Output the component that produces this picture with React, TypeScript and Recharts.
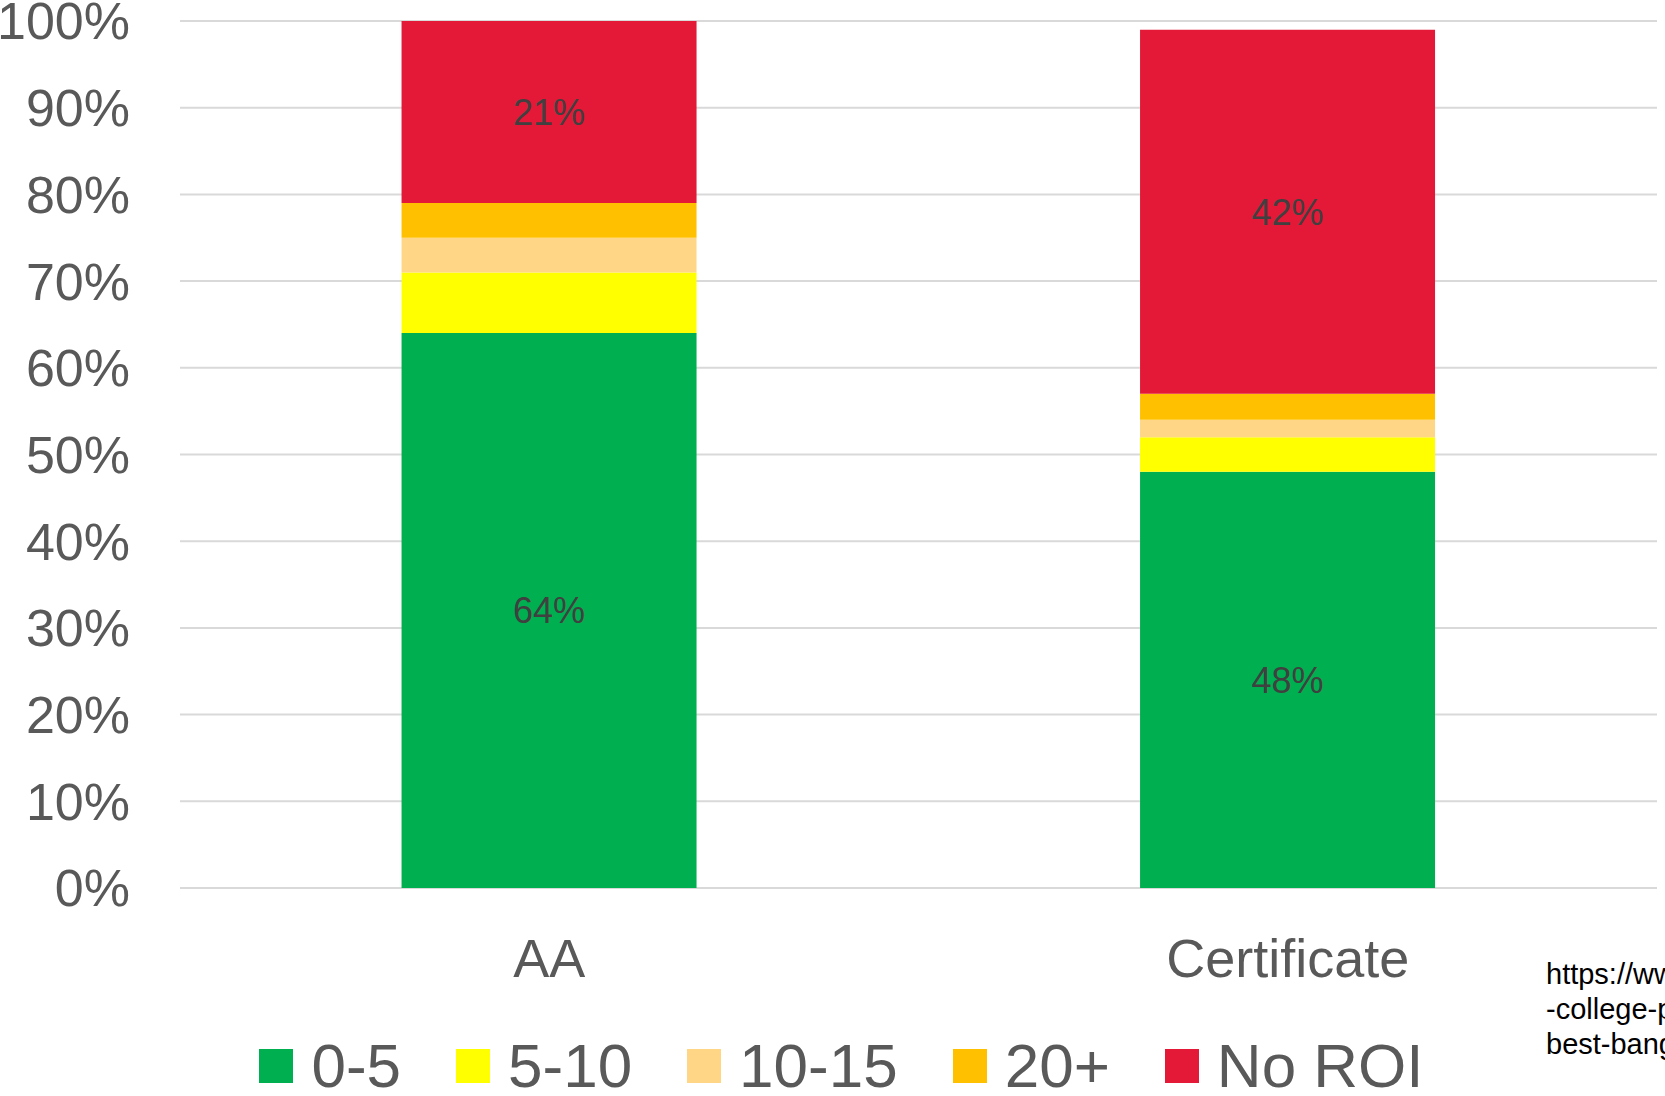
import React from "react";
import { BarChart, Bar, XAxis, YAxis, CartesianGrid, Legend, LabelList } from "recharts";

const categories = ["AA", "Certificate"];
const seriesNames = ["0-5", "5-10", "10-15", "20+", "No ROI"];
const seriesColors = ["#00B050", "#FFFF00", "#FFD686", "#FFC000", "#E31937"];
const values0to5 = [64, 48];
const values5to10 = [7, 4];
const values10to15 = [4, 2];
const values20plus = [4, 3];
const valuesNoROI = [21, 42];
const yTicks = [0, 10, 20, 30, 40, 50, 60, 70, 80, 90, 100];
const labelledSeries = ["0-5", "No ROI"];
const sourceLines = ["https://www.cnbc.com/2019/", "-college-programs-that-give-the-", "best-bang-for-your-buck.html"];

const seriesValues = [values0to5, values5to10, values10to15, values20plus, valuesNoROI];
const data = categories.map((c, i) => {
  const row: Record<string, any> = { category: c };
  seriesNames.forEach((s, j) => {
    row[s] = seriesValues[j][i];
  });
  return row;
});

const FONT = '"Liberation Sans", Arial, sans-serif';

const LegendContent = () => (
  <div
    style={{
      display: "flex",
      justifyContent: "center",
      alignItems: "center",
      height: 61,
      width: 1665,
      paddingLeft: 18,
      boxSizing: "border-box",
      fontFamily: FONT,
    }}
  >
    {seriesNames.map((s, i) => (
      <div key={s} style={{ display: "flex", alignItems: "center", marginRight: i < seriesNames.length - 1 ? 55 : 0 }}>
        <div style={{ width: 34, height: 34, background: seriesColors[i], marginRight: 18 }} />
        <span style={{ fontSize: 62, color: "#595959", lineHeight: "48px", display: "inline-block", height: 48 }}>{s}</span>
      </div>
    ))}
  </div>
);

export default function App() {
  return (
    <div
      style={{
        position: "absolute",
        left: 0,
        top: 0,
        width: 1665,
        height: 1096,
        overflow: "hidden",
        background: "#ffffff",
        fontFamily: FONT,
      }}
    >
      <BarChart
        width={1665}
        height={1096}
        data={data}
        margin={{ top: 21, right: 8, bottom: 0, left: 0 }}
        barCategoryGap="30%"
      >
        <CartesianGrid vertical={false} stroke="#D9D9D9" strokeWidth={2} />
        <XAxis
          dataKey="category"
          axisLine={false}
          tickLine={false}
          tickSize={0}
          tickMargin={51}
          height={147}
          tick={{ fontSize: 54, fill: "#595959", fontFamily: FONT }}
        />
        <YAxis
          domain={[0, 100]}
          ticks={yTicks}
          width={180}
          axisLine={false}
          tickLine={false}
          tickSize={0}
          tickMargin={50}
          interval={0}
          tickFormatter={(v: number) => `${v}%`}
          tick={{ fontSize: 52, fill: "#595959", fontFamily: FONT }}
        />
        <Legend verticalAlign="bottom" height={61} content={() => <LegendContent />} wrapperStyle={{ left: 0, width: 1665 }} />
        {seriesNames.map((s, i) => (
          <Bar key={s} dataKey={s} name={s} stackId="a" fill={seriesColors[i]} isAnimationActive={false}>
            {labelledSeries.includes(s) && (
              <LabelList
                dataKey={s}
                position="center"
                formatter={(v: any) => `${v}%`}
                style={{ fontSize: 36, fill: "#404040", fontFamily: FONT }}
              />
            )}
          </Bar>
        ))}
      </BarChart>
      <div
        style={{
          position: "absolute",
          left: 1546,
          top: 957,
          fontSize: 29,
          lineHeight: "35px",
          color: "#000000",
          whiteSpace: "pre",
          fontFamily: FONT,
        }}
      >
        {sourceLines.join("\n")}
      </div>
    </div>
  );
}
